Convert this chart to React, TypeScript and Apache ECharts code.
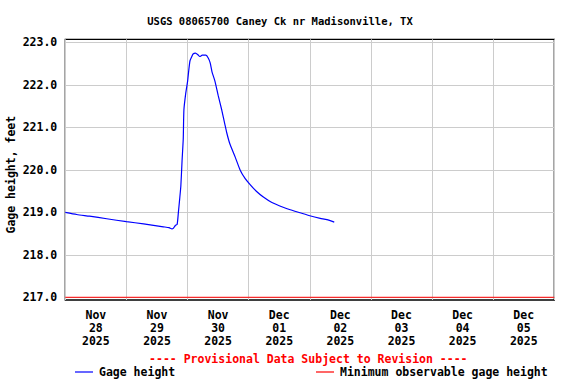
import React, { useEffect, useRef } from 'react';
import * as echarts from 'echarts';

const chartTitle = 'USGS 08065700 Caney Ck nr Madisonville, TX';
const yAxisName = 'Gage height, feet';
const provisionalNote = '---- Provisional Data Subject to Revision ----';
const seriesNames = ['Gage height', 'Minimum observable gage height'];

const gageTimes = [
  '2025-11-28 00:00', '2025-11-28 04:30', '2025-11-28 09:30', '2025-11-28 16:15',
  '2025-11-29 00:00', '2025-11-29 06:45', '2025-11-29 14:30', '2025-11-29 16:45',
  '2025-11-29 17:53', '2025-11-29 18:29', '2025-11-29 19:12', '2025-11-29 19:55',
  '2025-11-29 20:24', '2025-11-29 20:53', '2025-11-29 21:22', '2025-11-29 21:50',
  '2025-11-29 22:19', '2025-11-29 22:34', '2025-11-29 23:17', '2025-11-30 00:00',
  '2025-11-30 00:29', '2025-11-30 00:58', '2025-11-30 01:41', '2025-11-30 02:10',
  '2025-11-30 03:07', '2025-11-30 04:05', '2025-11-30 04:48', '2025-11-30 05:46',
  '2025-11-30 07:12', '2025-11-30 08:10', '2025-11-30 08:53', '2025-11-30 09:36',
  '2025-11-30 10:48', '2025-11-30 12:00', '2025-11-30 13:26', '2025-11-30 14:38',
  '2025-11-30 15:22', '2025-11-30 16:34', '2025-11-30 18:43', '2025-11-30 20:38',
  '2025-11-30 22:34', '2025-12-01 00:29', '2025-12-01 03:07', '2025-12-01 05:46',
  '2025-12-01 09:07', '2025-12-01 12:14', '2025-12-01 16:19', '2025-12-01 20:10',
  '2025-12-02 00:00', '2025-12-02 04:05', '2025-12-02 06:43', '2025-12-02 09:36',
];
const gageValues = [
  219.00, 218.95, 218.91, 218.85,
  218.78, 218.73, 218.66, 218.64,
  218.61, 218.63, 218.69, 218.72,
  219.00, 219.30, 219.62, 220.20,
  220.74, 221.41, 221.80, 222.08,
  222.35, 222.57, 222.67, 222.73,
  222.75, 222.71, 222.67, 222.70,
  222.70, 222.63, 222.52, 222.31,
  222.08, 221.76, 221.41, 221.08,
  220.88, 220.62, 220.30, 220.00,
  219.80, 219.66, 219.49, 219.36,
  219.23, 219.15, 219.06, 218.99,
  218.92, 218.86, 218.83, 218.77,
];
const minObservableHeight = 217.0;

const yTickValues = [217, 218, 219, 220, 221, 222, 223];
const yMin = 216.936;
const yMax = 223.075;

const dayBoundaries = [
  '2025-11-28', '2025-11-29', '2025-11-30', '2025-12-01', '2025-12-02',
  '2025-12-03', '2025-12-04', '2025-12-05', '2025-12-06',
];
const dayLabels = [
  ['Nov', '28', '2025'], ['Nov', '29', '2025'], ['Nov', '30', '2025'], ['Dec', '01', '2025'],
  ['Dec', '02', '2025'], ['Dec', '03', '2025'], ['Dec', '04', '2025'], ['Dec', '05', '2025'],
];

function toMs(s: string): number {
  const [d, t] = s.split(' ');
  const [Y, M, D] = d.split('-').map(Number);
  const [h, m] = (t || '00:00').split(':').map(Number);
  return new Date(Y, M - 1, D, h, m).getTime();
}

const FONT = '"DejaVu Sans Mono", "Liberation Mono", monospace';

export default function App() {
  const ref = useRef<HTMLDivElement>(null);
  useEffect(() => {
    if (!ref.current) return;
    const chart = echarts.init(ref.current, undefined, { renderer: 'svg' });
    const midnights = dayBoundaries.map((d) => toMs(d));
    const noons = dayLabels.map((_, i) => midnights[i] + 12 * 3600 * 1000);
    const xMin = midnights[0];
    const xMax = midnights[midnights.length - 1];
    const gageData = gageTimes.map((t, i) => [toMs(t), gageValues[i]]);
    const minData = [[xMin, minObservableHeight], [xMax, minObservableHeight]];

    const textBase = { fontFamily: FONT, fontWeight: 'bold' as const, color: '#000' };
    const legendBase = {
      top: 366,
      padding: 0,
      icon: 'rect',
      itemWidth: 18,
      itemHeight: 1.2,
      itemGap: 0,
      selectedMode: false,
      textStyle: { ...textBase, fontSize: 11.5, padding: [0, 0, 0, 1] },
    };

    chart.setOption({
      animation: false,
      backgroundColor: '#fff',
      grid: {
        left: 65.3,
        right: 21.7,
        top: 39.3,
        bottom: 84,
        containLabel: false,
        outerBoundsMode: 'none',
        show: true,
        borderColor: '#000',
        borderWidth: 1.3,
        backgroundColor: 'transparent',
      },
      xAxis: {
        type: 'value',
        min: xMin,
        max: xMax,
        axisLine: { show: false },
        axisTick: { show: false, customValues: midnights },
        splitLine: { show: true, lineStyle: { color: '#cccccc', width: 1 } },
        axisLabel: {
          customValues: noons,
          margin: 8,
          ...textBase,
          fontSize: 11.5,
          lineHeight: 13,
          align: 'center',
          formatter: (v: number) => {
            let best = 0;
            for (let i = 0; i < noons.length; i++) {
              if (Math.abs(noons[i] - v) < Math.abs(noons[best] - v)) best = i;
            }
            return dayLabels[best].join('\n');
          },
        },
      },
      yAxis: {
        type: 'value',
        min: yMin,
        max: yMax,
        name: yAxisName,
        nameLocation: 'middle',
        nameGap: 48,
        nameMoveOverlap: false,
        nameTextStyle: { ...textBase, fontSize: 11.5, padding: [0, 0, 0, -10] },
        axisLine: { show: false },
        axisTick: { show: false, customValues: yTickValues },
        splitLine: { show: true, lineStyle: { color: '#cccccc', width: 1 } },
        axisLabel: {
          customValues: yTickValues,
          margin: 8,
          ...textBase,
          fontSize: 11.5,
          formatter: (v: number) => v.toFixed(1),
        },
      },
      legend: [
        { ...legendBase, data: [{ name: seriesNames[0], itemStyle: { color: '#0000ff' } }], left: 75 },
        { ...legendBase, data: [{ name: seriesNames[1], itemStyle: { color: '#ff0000' } }], left: 316 },
      ],
      graphic: [
        {
          type: 'text',
          x: 280,
          y: 20.5,
          style: {
            text: chartTitle,
            fill: '#000',
            font: `bold 10.5px ${FONT}`,
            textAlign: 'center',
            textVerticalAlign: 'middle',
          },
        },
        {
          type: 'text',
          x: 308.3,
          y: 359,
          style: {
            text: provisionalNote,
            fill: '#ff0000',
            font: `bold 11.5px ${FONT}`,
            textAlign: 'center',
            textVerticalAlign: 'middle',
          },
        },
      ],
      series: [
        {
          name: seriesNames[1],
          type: 'line',
          data: minData,
          symbol: 'none',
          color: '#ff0000',
          lineStyle: { color: '#ff0000', width: 1 },
          z: 3,
        },
        {
          name: seriesNames[0],
          type: 'line',
          data: gageData,
          symbol: 'none',
          smooth: 0.2,
          color: '#0000ff',
          lineStyle: { color: '#0000ff', width: 1.2 },
          z: 4,
        },
      ],
    });
    return () => chart.dispose();
  }, []);
  return (
    <div
      ref={ref}
      style={{ position: 'absolute', left: 0, top: 0, width: 576, height: 384 }}
    />
  );
}
